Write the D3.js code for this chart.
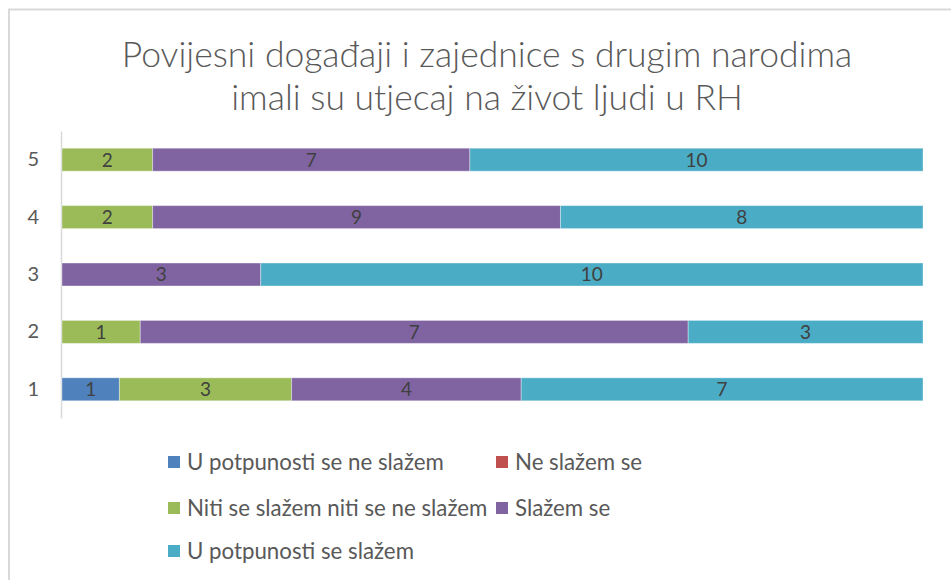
<!DOCTYPE html>
<html>
<head>
<meta charset="utf-8">
<script src="https://cdn.jsdelivr.net/npm/d3@7"></script>
<style>
  body { margin: 0; background: #fff; }
  svg text { font-family: Lato, "Open Sans", sans-serif; }
</style>
</head>
<body>
<div id="chart"></div>
<script>
// categories (bottom to top) and series
var categories = ["1", "2", "3", "4", "5"];
var seriesNames = ["U potpunosti se ne slažem", "Ne slažem se",
                   "Niti se slažem niti se ne slažem", "Slažem se",
                   "U potpunosti se slažem"];
var seriesColors = ["#4F81BD", "#C0504D", "#9BBB59", "#8064A2", "#4BACC6"];
// values per series, indexed by category
var vPotpunoNe = [1, 0, 0, 0, 0];
var vNe        = [0, 0, 0, 0, 0];
var vNiti      = [3, 1, 0, 2, 2];
var vSlazem    = [4, 7, 3, 9, 7];
var vPotpuno   = [7, 3, 10, 8, 10];
var titleLines = ["Povijesni događaji i zajednice s drugim narodima",
                  "imali su utjecaj na život ljudi u RH"];

var width = 951, height = 580;
var margin = {left: 61, right: 28, top: 131, bottom: 162};

var svg = d3.select("#chart").append("svg")
  .attr("width", width).attr("height", height);

// chart frame
svg.append("rect")
  .attr("x", 9).attr("y", 9.5)
  .attr("width", width + 20).attr("height", height + 20)
  .attr("fill", "none").attr("stroke", "#d9d9d9").attr("stroke-width", 2);

// title
var title = svg.append("g");
titleLines.forEach(function(t, i) {
  title.append("text")
    .attr("x", 487).attr("y", 67 + i * 43)
    .attr("text-anchor", "middle")
    .style("font-size", "28px")
    .style("font-weight", 300)
    .attr("fill", "#595959")
    .text(t);
});
// fit first line to its width in the picture
var tl = title.select("text").node().getComputedTextLength();
title.selectAll("text").style("font-size", (28 * 731 / tl) + "px");

// build table
var rows = categories.map(function(c, i) {
  return {cat: c, vals: [vPotpunoNe[i], vNe[i], vNiti[i], vSlazem[i], vPotpuno[i]]};
});

var xScale = d3.scaleLinear().domain([0, 1])
  .range([margin.left + 1, width - margin.right]);
var yScale = d3.scaleBand().domain(categories.slice().reverse())
  .range([margin.top, height - margin.bottom])
  .paddingInner(0.6).paddingOuter(0.3);

var yAxis = d3.axisLeft(yScale).tickSize(0).tickPadding(22);
var yg = svg.append("g")
  .attr("transform", "translate(" + margin.left + ",0)")
  .call(yAxis);
yg.select(".domain").attr("stroke", "#d9d9d9").attr("stroke-width", 1.5);
yg.selectAll("text")
  .style("font-size", "20px")
  .attr("fill", "#595959");

rows.forEach(function(r) {
  var total = d3.sum(r.vals);
  var acc = 0;
  var segs = r.vals.map(function(v, k) {
    var s = {k: k, v: v, x0: acc / total, x1: (acc + v) / total};
    acc += v;
    return s;
  }).filter(function(s) { return s.v > 0; });

  var g = svg.append("g");
  g.selectAll("rect").data(segs).enter().append("rect")
    .attr("x", function(d) { return xScale(d.x0); })
    .attr("y", yScale(r.cat))
    .attr("width", function(d) { return xScale(d.x1) - xScale(d.x0); })
    .attr("height", yScale.bandwidth())
    .attr("fill", function(d) { return seriesColors[d.k]; })
    .attr("stroke", "rgba(255,255,255,0.35)")
    .attr("stroke-width", 1);

  g.selectAll("text").data(segs).enter().append("text")
    .attr("x", function(d) { return (xScale(d.x0) + xScale(d.x1)) / 2; })
    .attr("y", yScale(r.cat) + yScale.bandwidth() / 2)
    .attr("dy", "0.36em")
    .attr("text-anchor", "middle")
    .style("font-size", "19px")
    .attr("fill", "#404040")
    .text(function(d) { return d.v; });
});

// legend
var legendPos = [[168, 462], [496, 462], [168, 508], [496, 508], [168, 551]];
var legend = svg.append("g");
seriesNames.forEach(function(n, i) {
  var p = legendPos[i];
  legend.append("rect")
    .attr("x", p[0]).attr("y", p[1] - 6)
    .attr("width", 12).attr("height", 12)
    .attr("fill", seriesColors[i]);
  legend.append("text")
    .attr("x", p[0] + 19).attr("y", p[1])
    .attr("dy", "0.36em")
    .style("font-size", "19px")
    .attr("fill", "#595959")
    .text(n);
});
var ll = legend.select("text").node().getComputedTextLength();
legend.selectAll("text").style("font-size", (19 * 257 / ll) + "px");
</script>
</body>
</html>
